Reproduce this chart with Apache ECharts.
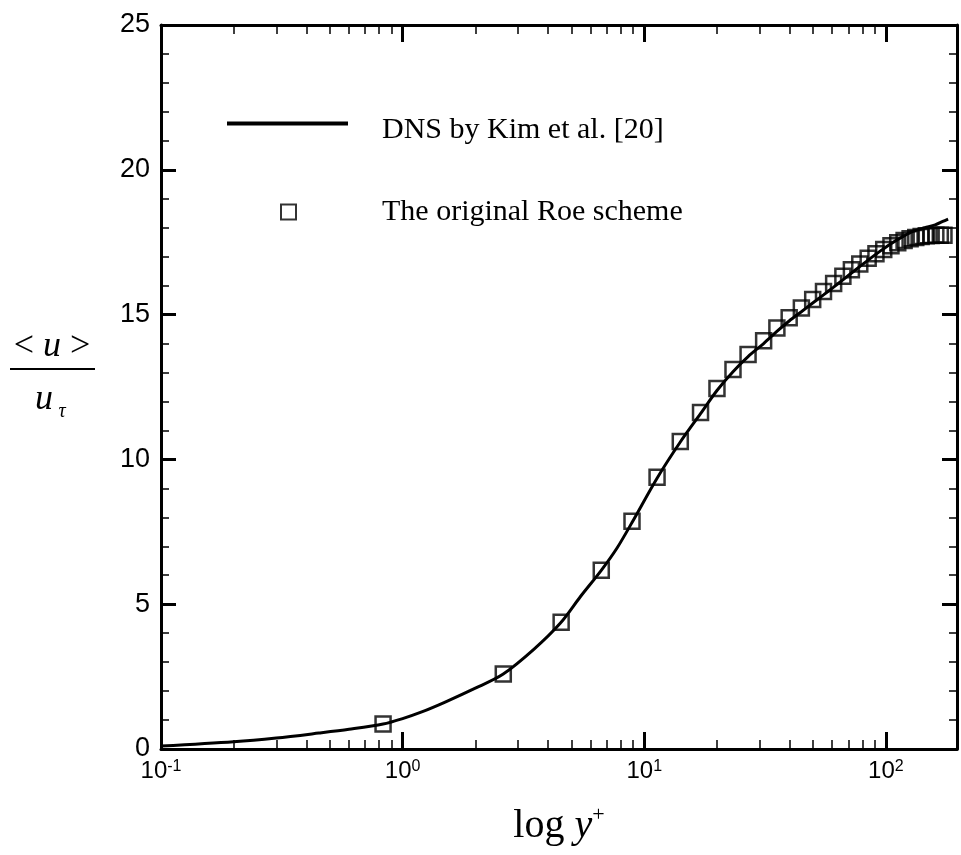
<!DOCTYPE html>
<html>
<head>
<meta charset="utf-8">
<script src="https://cdn.jsdelivr.net/npm/echarts@6/dist/echarts.min.js"></script>
<style>
html,body{margin:0;padding:0;background:#fff;}
#chart{width:961px;height:855px;}
</style>
</head>
<body>
<div id="chart"></div>
<script>
// ---- data ----
const DNS_YPLUS = [0.1, 0.2, 0.3, 0.45, 0.6, 0.83, 1.0, 1.2, 1.5, 2.0, 2.6, 3.5, 4.5, 5.43, 6.64, 7.73, 8.9, 11.3, 14.1, 17.1, 20.0, 23.3, 26.9, 31.2, 35.4, 39.8, 44.7, 49.8, 55.2, 60.8, 66.4, 75, 85, 95, 105, 118, 130, 145, 160, 172, 181];
const DNS_U     = [0.1, 0.25, 0.38, 0.55, 0.68, 0.86, 1.05, 1.28, 1.62, 2.1, 2.58, 3.45, 4.35, 5.25, 6.17, 6.95, 7.82, 9.35, 10.6, 11.58, 12.38, 13.03, 13.55, 14.0, 14.42, 14.78, 15.1, 15.4, 15.68, 15.95, 16.2, 16.55, 16.9, 17.2, 17.45, 17.7, 17.88, 18.0, 18.1, 18.22, 18.3];

const ROE_YPLUS = [0.83, 2.61, 4.53, 6.64, 8.9, 11.3, 14.1, 17.1, 20.0, 23.3, 26.9, 31.2, 35.4, 39.8, 44.7, 49.8, 55.2, 60.8, 66.4, 72, 78, 84.5, 91, 98, 105, 112, 119, 126, 133, 140, 147, 154, 161, 168, 174];
const ROE_U     = [0.86, 2.59, 4.38, 6.17, 7.86, 9.38, 10.62, 11.62, 12.45, 13.1, 13.62, 14.1, 14.54, 14.89, 15.23, 15.52, 15.8, 16.07, 16.32, 16.55, 16.75, 16.95, 17.1, 17.25, 17.38, 17.48, 17.56, 17.62, 17.66, 17.7, 17.72, 17.73, 17.74, 17.74, 17.74];

const X_MAJOR_EXP = [-1, 0, 1, 2];     // tick labels 10^-1 ... 10^2
const X_MIN = 0.1, X_MAX = 197;
const Y_MIN = 0, Y_MAX = 25, Y_STEP = 5;

const SERIES_NAMES = ['DNS by Kim et al. [20]', 'The original Roe scheme'];

// ---- build ----
const lg = v => Math.log10(v);
const xMinL = lg(X_MIN), xMaxL = lg(X_MAX);
const minorX = [];
X_MAJOR_EXP.forEach(e => { for (let k = 2; k <= 9; k++) { const v = lg(k * Math.pow(10, e)); if (v <= xMaxL) minorX.push(v); } });

const dnsData = DNS_YPLUS.map((x, i) => [lg(x), DNS_U[i]]);
const roeData = ROE_YPLUS.map((x, i) => [lg(x), ROE_U[i]]);

const SANS = 'Liberation Sans, Arial, sans-serif';
const SERIF = 'Liberation Serif, Times New Roman, serif';

function xAxisCfg(pos, major, showLine, showLabel) {
  return {
    type: 'value', position: pos, min: xMinL, max: xMaxL, gridIndex: 0,
    axisLine: { show: showLine, onZero: false, lineStyle: { color: '#000', width: 3 } },
    axisTick: { show: true, inside: true, customValues: major ? X_MAJOR_EXP : minorX,
                length: major ? 17 : 9, lineStyle: { color: '#000', width: major ? 3 : 1.5 } },
    axisLabel: { show: showLabel, customValues: X_MAJOR_EXP, margin: 10,
                 formatter: v => '{b|10}{s|' + Math.round(v) + '}',
                 rich: { b: { fontFamily: SANS, fontSize: 24, color: '#000', lineHeight: 25 },
                         s: { fontFamily: SANS, fontSize: 16, color: '#000', verticalAlign: 'top', lineHeight: 16 } } },
    splitLine: { show: false }, minorTick: { show: false }
  };
}
function yAxisCfg(pos, showLabel) {
  return {
    type: 'value', position: pos, min: Y_MIN, max: Y_MAX, interval: Y_STEP,
    axisLine: { show: true, onZero: false, lineStyle: { color: '#000', width: 3 } },
    axisTick: { show: true, inside: true, length: 15, lineStyle: { color: '#000', width: 3 } },
    minorTick: { show: true, splitNumber: 5, length: 8, lineStyle: { color: '#000', width: 1.5 } },
    axisLabel: { show: showLabel, margin: 11, fontFamily: SANS, fontSize: 27, color: '#000' },
    splitLine: { show: false }, minorSplitLine: { show: false }
  };
}

const xb = xAxisCfg('bottom', true, true, true);
xb.name = '{a|log }{b|y}{c|+}';
xb.nameLocation = 'middle';
xb.nameGap = 55;
xb.nameTextStyle = { rich: {
  a: { fontFamily: SERIF, fontSize: 40, color: '#000', lineHeight: 44 },
  b: { fontFamily: SERIF, fontSize: 40, fontStyle: 'italic', color: '#000', lineHeight: 44 },
  c: { fontFamily: SERIF, fontSize: 22, color: '#000', verticalAlign: 'top', lineHeight: 22 } } };

const option = {
  backgroundColor: '#fff',
  animation: false,
  grid: { left: 161, right: 4, top: 25, bottom: 106, containLabel: false },
  xAxis: [
    xb,
    xAxisCfg('bottom', false, false, false),
    xAxisCfg('top', true, true, false),
    xAxisCfg('top', false, false, false)
  ],
  yAxis: [ yAxisCfg('left', true), yAxisCfg('right', false) ],
  legend: [
    { data: [{ name: SERIES_NAMES[0], icon: 'rect' }], left: 222, top: 110, orient: 'vertical',
      itemWidth: 121, itemHeight: 4, selectedMode: false,
      itemStyle: { color: '#000' },
      formatter: '{t|{name}}',
      textStyle: { rich: { t: { fontFamily: SERIF, fontSize: 30, color: '#000', padding: [13, 0, 0, 29] } } } },
    { data: [SERIES_NAMES[1]], left: 275, top: 192, orient: 'vertical',
      itemWidth: 15, itemHeight: 15, selectedMode: false,
      textStyle: { fontFamily: SERIF, fontSize: 30, color: '#000', padding: [0, 0, 0, 81] } }
  ],
  series: [
    { name: SERIES_NAMES[0], type: 'line', xAxisIndex: 0, yAxisIndex: 0, data: dnsData,
      symbol: 'none', smooth: 0.3, lineStyle: { color: '#000', width: 3 }, itemStyle: { color: '#000' }, z: 2 },
    { name: SERIES_NAMES[1], type: 'scatter', xAxisIndex: 0, yAxisIndex: 0, data: roeData,
      symbol: 'rect', symbolSize: 15,
      itemStyle: { color: 'transparent', borderColor: '#000', borderWidth: 2.5 }, z: 3 }
  ],
  graphic: [
    { type: 'text', x: 52, y: 347, style: { text: '{n|< }{i|u}{n| >}', align: 'center', verticalAlign: 'middle',
      rich: { n: { fontFamily: SERIF, fontSize: 36, fill: '#000' }, i: { fontFamily: SERIF, fontSize: 36, fontStyle: 'italic', fill: '#000' } } } },
    { type: 'line', shape: { x1: 10, y1: 369, x2: 95, y2: 369 }, style: { stroke: '#000', lineWidth: 2 } },
    { type: 'text', x: 44, y: 400, style: { text: 'u', align: 'center', verticalAlign: 'middle',
      fontFamily: SERIF, fontSize: 36, fontStyle: 'italic', fill: '#000' } },
    { type: 'text', x: 62, y: 412, style: { text: 'τ', align: 'center', verticalAlign: 'middle',
      fontFamily: SERIF, fontSize: 20, fontStyle: 'italic', fill: '#000' } }
  ]
};

const chart = echarts.init(document.getElementById('chart'), null, { renderer: 'canvas' });
chart.setOption(option);
</script>
</body>
</html>
